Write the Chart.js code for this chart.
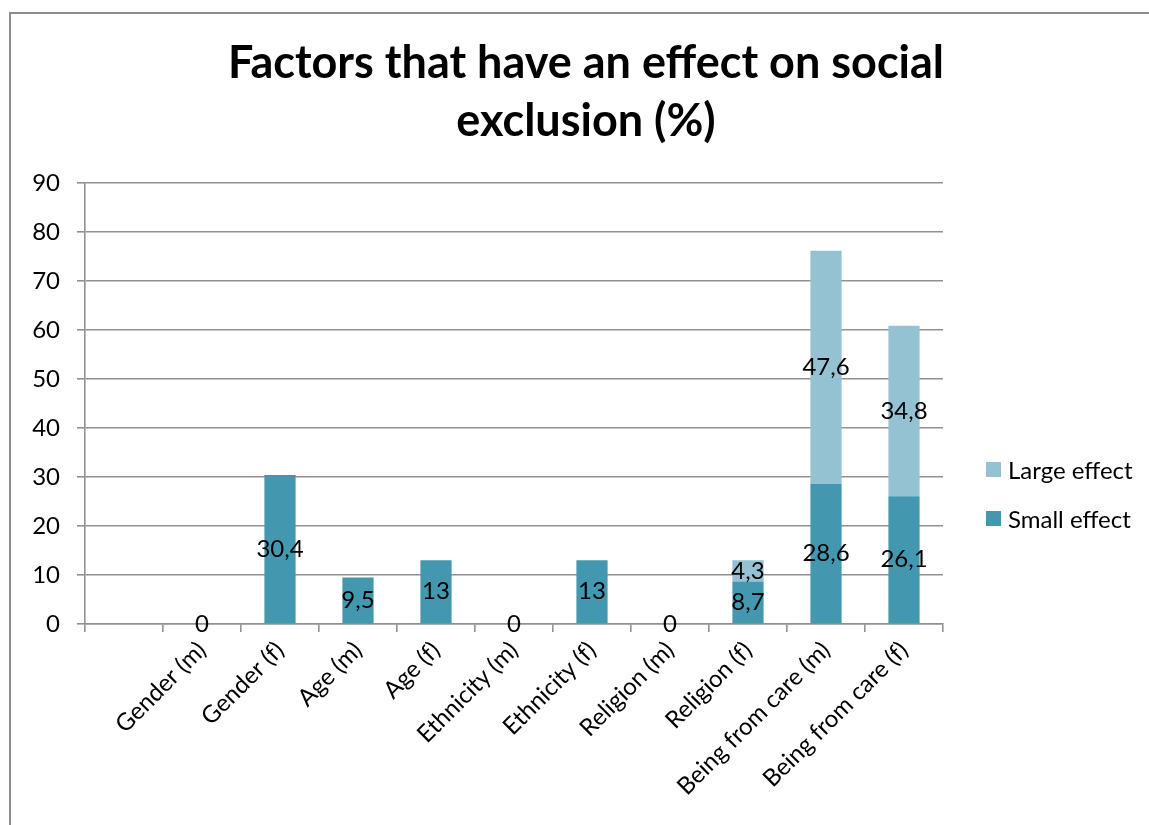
<!DOCTYPE html>
<html>
<head>
<meta charset="utf-8">
<title>Factors that have an effect on social exclusion</title>
<script src="https://cdn.jsdelivr.net/npm/chart.js@4/dist/chart.umd.min.js"></script>
<style>
  html, body { margin: 0; padding: 0; background: #fff; }
  #frame {
    position: absolute; left: 9px; top: 12px; right: 0; bottom: 0;
    border-left: 2px solid #8e8e8e; border-top: 2px solid #8e8e8e;
  }
  #wrap { position: absolute; left: 0; top: 0; width: 1149px; height: 825px; }
  #legend { position: absolute; left: 986px; top: 456px; font-family: Lato, sans-serif; font-size: 24px; color: #000; }
  #legend .item { display: flex; align-items: center; height: 27px; margin-bottom: 22px; white-space: nowrap; }
  #legend .box { width: 15px; height: 15px; margin-right: 7px; }
</style>
</head>
<body>
<div id="frame"></div>
<div id="wrap"><canvas id="grafica" width="1149" height="825"></canvas></div>
<div id="legend"></div>
<script>
// categories (the first slot is empty in the original sheet)
const categorias = ["", "Gender (m)", "Gender (f)", "Age (m)", "Age (f)", "Ethnicity (m)", "Ethnicity (f)",
  "Religion (m)", "Religion (f)", "Being from care (m)", "Being from care (f)"];
const efectoPequeno = [null, 0, 30.4, 9.5, 13, 0, 13, 0, 8.7, 28.6, 26.1];
const efectoGrande = [null, null, null, null, null, null, null, null, 4.3, 47.6, 34.8];
const ticksY = [0, 10, 20, 30, 40, 50, 60, 70, 80, 90];

const colorPequeno = "#4398af";
const colorGrande = "#94c2d3";
const gris = "#919191";
const fuente = "Lato, 'Open Sans', sans-serif";

// etiquetas de valores dentro de cada segmento, con coma decimal
const etiquetasBarras = {
  id: "etiquetasBarras",
  afterDatasetsDraw(chart) {
    const ctx = chart.ctx;
    ctx.save();
    ctx.font = "24px " + fuente;
    ctx.fillStyle = "#000";
    ctx.textAlign = "center";
    ctx.textBaseline = "middle";
    chart.data.datasets.forEach((ds, i) => {
      const meta = chart.getDatasetMeta(i);
      meta.data.forEach((barra, j) => {
        const v = ds.data[j];
        if (v === null || v === undefined) return;
        const { x, y, base } = barra.getProps(["x", "y", "base"], true);
        ctx.fillText(String(v).replace(".", ","), x, (y + base) / 2);
      });
    });
    ctx.restore();
  }
};

const grafica = new Chart(document.getElementById("grafica"), {
  type: "bar",
  data: {
    labels: categorias,
    datasets: [
      { label: "Small effect", data: efectoPequeno, backgroundColor: colorPequeno,
        categoryPercentage: 1, barPercentage: 0.4 },
      { label: "Large effect", data: efectoGrande, backgroundColor: colorGrande,
        categoryPercentage: 1, barPercentage: 0.4 }
    ]
  },
  options: {
    responsive: false,
    animation: false,
    layout: { padding: { left: 23, right: 0, top: 0, bottom: 0 } },
    plugins: {
      legend: { display: false, reverse: true },
      tooltip: { enabled: false },
      title: {
        display: true,
        text: ["Factors that have an effect on social", "exclusion (%)"],
        color: "#000",
        font: { family: fuente, size: 45, weight: "bold", lineHeight: 1.28 },
        padding: { top: 35, bottom: 33 }
      }
    },
    scales: {
      x: {
        stacked: true,
        grid: { display: true, drawOnChartArea: false, drawTicks: true, tickLength: 8, color: gris, lineWidth: 1.6 },
        border: { display: true, color: gris, width: 1.6 },
        ticks: {
          autoSkip: false, maxRotation: 45, minRotation: 45, padding: 4,
          color: "#000", font: { family: fuente, size: 24 }
        },
        afterFit(scale) { scale.height = 201; }
      },
      y: {
        stacked: true,
        min: 0, max: 90,
        afterBuildTicks(scale) { scale.ticks = ticksY.map(v => ({ value: v })); },
        grid: { color: gris, lineWidth: 1.6, tickLength: 8 },
        border: { display: true, color: gris, width: 1.6 },
        ticks: { padding: 17, color: "#000", font: { family: fuente, size: 24 } },
        afterFit(scale) { scale.width = 62; }
      },
      hueco: {
        type: "linear",
        position: "right",
        display: true,
        grid: { display: false },
        border: { display: false },
        ticks: { display: false },
        afterFit(scale) { scale.width = 206; }
      }
    }
  },
  plugins: [etiquetasBarras]
});

// leyenda HTML a la derecha (orden invertido como en el original)
const cajaLeyenda = document.getElementById("legend");
grafica.options.plugins.legend.labels.generateLabels(grafica).reverse().forEach(item => {
  const fila = document.createElement("div");
  fila.className = "item";
  const caja = document.createElement("span");
  caja.className = "box";
  caja.style.background = item.fillStyle;
  const texto = document.createElement("span");
  texto.textContent = item.text;
  fila.appendChild(caja);
  fila.appendChild(texto);
  cajaLeyenda.appendChild(fila);
});
</script>
</body>
</html>
